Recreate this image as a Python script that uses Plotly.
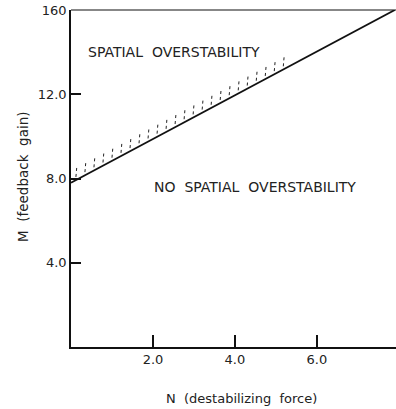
import numpy as np
import plotly.graph_objects as go

# Data
N_line = [0.0, 7.9]
M_line = [7.8, 16.0]
hatch_N = [0.12, 0.34, 0.56, 0.78, 1.00, 1.22, 1.44, 1.66, 1.88, 2.10, 2.32, 2.54,
           2.76, 2.98, 3.20, 3.42, 3.64, 3.86, 4.08, 4.30, 4.52, 4.74, 4.96, 5.18]
x_ticks = [2, 4, 6]
x_labels = ["2.0", "4.0", "6.0"]
y_ticks = [4, 8, 12, 16]
y_labels = ["4.0", "8.0", "12.0", "160"]

hatch_M = np.interp(hatch_N, N_line, M_line)
hx, hy = [], []
for n, m in zip(hatch_N, hatch_M):
    hx += [n, n + 0.02, None]
    hy += [m + 0.15, m + 0.6, None]

W, H = 396, 409
L, R, T, B = 71, 0, 10, 62
PW = W - L - R
PH = H - T - B

fig = go.Figure()
fig.add_trace(go.Scatter(x=hx, y=hy, mode="lines",
                         line=dict(color="#222", width=1, dash="dot"),
                         hoverinfo="skip", showlegend=False))
fig.add_trace(go.Scatter(x=N_line, y=M_line, mode="lines",
                         line=dict(color="#111", width=1.8),
                         hoverinfo="skip", showlegend=False))

font = dict(family="DejaVu Sans, sans-serif", color="#222")
fig.add_annotation(x=0.37, y=14.0, xanchor="left", yanchor="middle",
                   text="SPATIAL  OVERSTABILITY", showarrow=False,
                   font=dict(size=14, **font))
fig.add_annotation(x=1.98, y=7.6, xanchor="left", yanchor="middle",
                   text="NO  SPATIAL  OVERSTABILITY", showarrow=False,
                   font=dict(size=14, **font))

def px_to_dom(px, py):
    return (px - L) / PW, (T + PH - py) / PH

yx, yy = px_to_dom(23, 176)
fig.add_annotation(x=yx, y=yy, xref="x domain", yref="y domain",
                   xanchor="center", yanchor="middle",
                   text="M  (feedback  gain)", showarrow=False, textangle=-90,
                   font=dict(size=13.5, **font))
xx, xy = px_to_dom(241, 398)
fig.add_annotation(x=xx, y=xy, xref="x domain", yref="y domain",
                   xanchor="center", yanchor="middle",
                   text="N  (destabilizing  force)", showarrow=False,
                   font=dict(size=13, **font))

fig.update_xaxes(range=[0, 7.93], tickvals=x_ticks, ticktext=x_labels,
                 ticks="inside", ticklen=12, tickcolor="#111", tickwidth=1.5,
                 showline=True, linecolor="#111", linewidth=1.5, mirror=False,
                 showgrid=False, zeroline=False,
                 tickfont=dict(size=13, **font))
fig.update_yaxes(range=[0, 16], tickvals=y_ticks, ticktext=y_labels,
                 ticks="inside", ticklen=10, tickcolor="#111", tickwidth=1.5,
                 showline=True, linecolor="#111", linewidth=1.5,
                 showgrid=False, zeroline=False,
                 tickfont=dict(size=13, **font))
# top border
fig.add_shape(type="line", xref="x domain", yref="y domain", x0=0, x1=1, y0=1, y1=1,
              line=dict(color="#111", width=1.2))

fig.update_layout(width=W, height=H, margin=dict(l=L, r=R, t=T, b=B),
                  plot_bgcolor="white", paper_bgcolor="white", template="none",
                  hovermode=False)
fig.write_html("out.html", config={"displayModeBar": False},
               post_script="document.body.style.margin='0';document.body.style.overflow='hidden';")
